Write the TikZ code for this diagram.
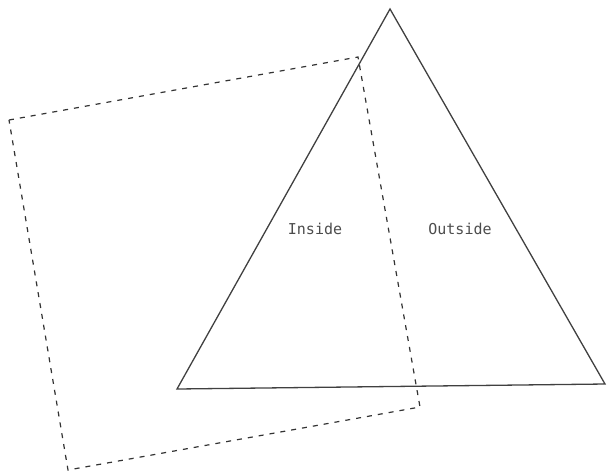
\documentclass[tikz,border=0pt]{standalone}
\usepackage{fontspec}
\setmonofont{DejaVu Sans Mono}
\usetikzlibrary{positioning}

\begin{document}
\begin{tikzpicture}[
  x=1pt, y=-1pt,
  tri/.style={draw=black!75, line width=1.3pt, line join=miter},
  clipbox/.style={draw=black!80, line width=1.2pt, dash pattern=on 5pt off 6pt},
  lbl/.style={font=\ttfamily\fontsize{15}{17}\selectfont, text=black!70}
]
  \useasboundingbox (0,0) rectangle (607,475);

  % ── Triangle ──
  \coordinate (apex) at (390,9);
  \coordinate (bl) at (177,389);
  \coordinate (br) at (605,384);
  \draw[tri] (apex) -- (bl) -- (br) -- cycle;

  % ── Dashed window ──
  \coordinate (wtl) at (9,120);
  \coordinate (wtr) at (358,57);
  \coordinate (wbr) at (420,407);
  \coordinate (wbl) at (68,470);
  \draw[clipbox] (wtl) -- (wtr) -- (wbr) -- (wbl) -- cycle;

  % ── Labels ──
  \node[lbl] (inside) at (315,229) {Inside};
  \node[lbl] (outside) at (460,229) {Outside};
\end{tikzpicture}
\end{document}
